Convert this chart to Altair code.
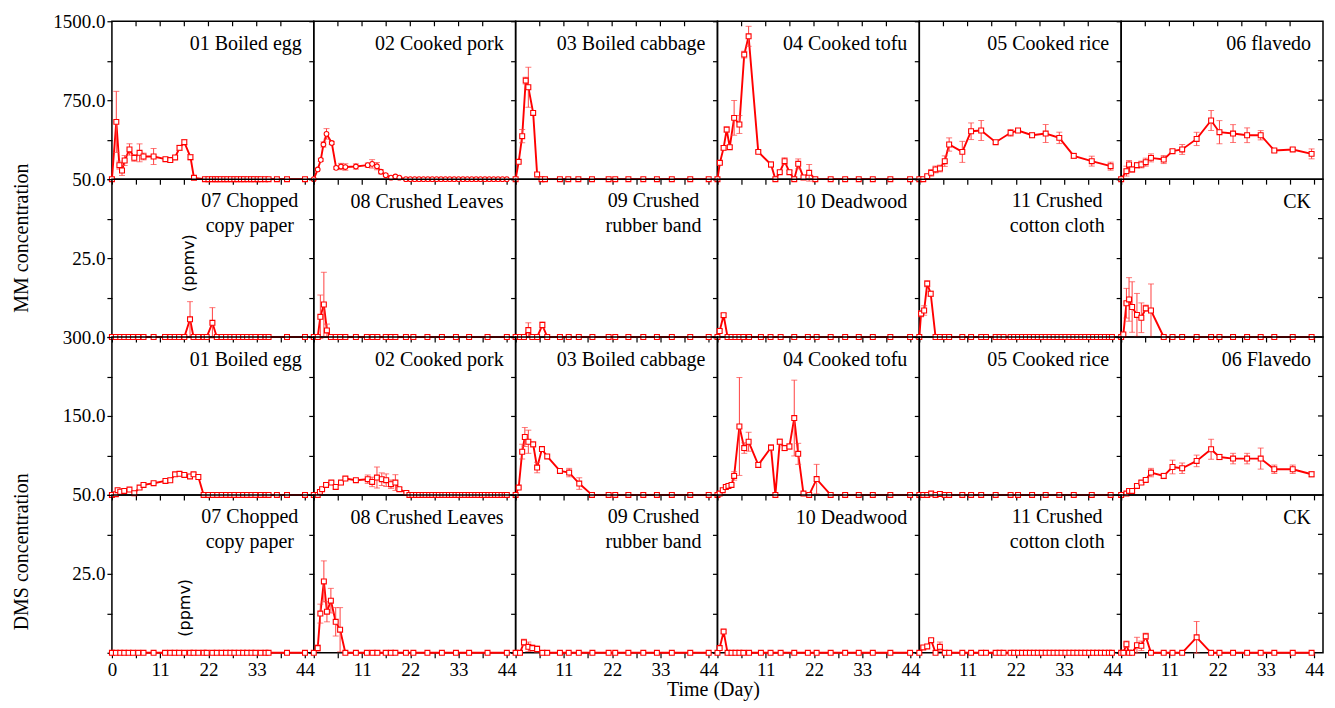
import sys
import altair as alt
import pandas as pd

# ---------------------------------------------------------------- data
Y_MAX = [1500, 50, 300, 50]                 # per row of panels
X_TICKS = [0, 5.5, 11, 16.5, 22, 27.5, 33, 38.5, 44]
X_MAX = 46

TITLES_R1 = ["01 Boiled egg", "02 Cooked pork", "03 Boiled cabbage",
             "04 Cooked tofu", "05 Cooked rice", "06  flavedo"]
TITLES_R2 = ["07 Chopped\ncopy paper", "08 Crushed Leaves", "09 Crushed\nrubber band",
             "10 Deadwood", "11 Crushed\ncotton cloth", "CK"]
TITLES_R3 = ["01 Boiled egg", "02 Cooked pork", "03 Boiled cabbage",
             "04 Cooked tofu", "05 Cooked rice", "06 Flavedo"]
TITLES_R4 = TITLES_R2

Y_TITLE_MM = "MM concentration"
Y_TITLE_DMS = "DMS concentration"
UNIT_TEXT = "(ppmv)"
X_TITLE = "Time (Day)"

# ---- row 1 : MM, large scale
EGG_MM_DAY = [0, 1, 1.7, 2.3, 2.9, 4, 5.1, 6.3, 7.2, 9.5,
              12.2, 13.3, 14.4, 15.4, 16.5, 17.9, 18.7, 21.2, 22, 22.8,
              23.5, 24.1, 24.8, 25.6, 26.3, 27.1, 27.9, 28.6, 29.4, 30.1,
              30.9, 31.7, 32.4, 33.2, 33.9, 34.9, 35.7, 37.6, 39.9, 44]
EGG_MM_VAL = [0, 544, 133, 82, 177, 282, 202, 250, 215, 215,
              190, 181, 206, 297, 351, 209, 12, 0, 0, 0,
              0, 0, 0, 0, 0, 0, 0, 0, 0, 0,
              0, 0, 0, 0, 0, 0, 0, 0, 0, 0]
EGG_MM_ERR = [0, 290, 38, 47, 47, 54, 32, 85, 32, 76, 16, 16, 16, 25, 25, 25]

PORK_MM_DAY = [0, 0.9, 1.6, 2.2, 2.9, 4.1, 5.1, 6.2, 7.2, 9.6,
               12.3, 13.3, 14.4, 15.3, 16.4, 17.6, 18.6, 19.5, 21, 22,
               23, 24, 25, 26, 27, 28, 29, 30, 31, 32,
               33, 34, 35, 36, 37, 38, 39, 40, 41, 42,
               43, 44]
PORK_MM_VAL = [0, 92, 183, 329, 430, 344, 107, 120, 115, 120,
               133, 145, 123, 70, 38, 14, 25, 14, 0, 0,
               0, 0, 0, 0, 0, 0, 0, 0, 0, 0,
               0, 0, 0, 0, 0, 0, 0, 0, 0, 0,
               0, 0]
PORK_MM_ERR = [0, 0, 15, 25, 50, 15, 15, 30, 30, 25, 20, 40, 35, 20, 10, 5, 5, 5]

CAB_MM_DAY = [0, 0.7, 1.5, 2.3, 2.9, 4.0, 4.9, 5.9, 6.7, 10.1,
              12.0, 14.3, 17.4, 21.2, 22.7, 25.7, 29.1, 32.2, 35.6, 39.8, 44]
CAB_MM_VAL = [0, 164, 408, 936, 873, 629, 45, 0, 0, 0,
              0, 0, 0, 0, 0, 0, 0, 0, 0, 0, 0]
CAB_MM_ERR = [0, 0, 63, 32, 190]

TOFU_MM_DAY = [0, 0.55, 1.4, 2.1, 2.8, 3.8, 5.0, 6.1, 7.1, 9.3,
               12.2, 13.2, 14.2, 15.3, 16.4, 17.5, 18.4, 19.6, 20.9, 22.3,
               25.8, 29.1, 32.2, 35.4, 39.4, 43.9]
TOFU_MM_VAL = [0, 155, 297, 471, 304, 582, 519, 1183, 1357, 259,
               139, 0, 66, 171, 66, 0, 145, 16, 60, 0,
               0, 0, 0, 0, 0, 0]
TOFU_MM_ERR = [0, 10, 20, 25, 15, 165, 85, 32, 95, 10, 25, 0, 15, 32, 15, 0, 47, 0, 79]

RICE_DAY = [0, 0.9, 1.8, 2.7, 3.7, 4.7, 5.8, 6.8, 9.8, 11.8,
            14.1, 17.4, 20.8, 22.5, 25.7, 28.8, 31.9, 35.2, 39.3, 43.6]
RICE_MM_VAL = [0, 0, 28, 60, 92, 101, 171, 329, 259, 455,
               462, 351, 440, 462, 417, 433, 392, 221, 171, 123]
RICE_MM_ERR = [0, 0, 10, 32, 32, 32, 50, 63, 100, 79, 95, 16, 32, 16, 22, 85, 54, 25, 47, 38]

FLAV_DAY = [0, 1.2, 1.8, 2.5, 3.6, 4.6, 5.6, 6.8, 9.7, 11.7,
            13.9, 17.2, 20.5, 22.4, 25.5, 28.7, 31.8, 34.9, 39.1, 43.4]
FLAV_MM_VAL = [0, 76, 139, 92, 133, 139, 161, 202, 186, 266,
               282, 382, 557, 446, 433, 417, 417, 272, 282, 240]
FLAV_MM_ERR = [0, 47, 38, 25, 25, 32, 38, 38, 38, 16, 47, 63, 95, 110, 85, 70, 44, 16, 16, 47]

# ---- row 2 : MM, small scale
PAPER_DAY = [0, 0.9, 1.9, 2.8, 3.8, 4.8, 6.0, 7.2, 9.5, 12.1,
             13.3, 14.3, 15.3, 16.5, 17.8, 18.6, 19.7, 20.9, 21.6, 22.9,
             23.9, 25.0, 26.0, 27.0, 27.9, 28.9, 29.9, 30.8, 31.8, 32.7,
             33.9, 35.0, 35.7, 39.9, 44.0]
PAPER_MM_VAL = [0, 0, 0, 0, 0, 0, 0, 0, 0, 0,
                0, 0, 0, 0, 5.6, 0, 0, 0, 0, 4.5,
                0, 0, 0, 0, 0, 0, 0, 0, 0, 0,
                0, 0, 0, 0, 0]
PAPER_MM_ERR = [0, 0, 0, 0, 0, 0, 0, 0, 0, 0,
                0, 0, 0, 0, 5.6, 0, 0, 0, 0, 4.8]

LEAF_DAY = [0, 0.9, 1.5, 2.3, 3.0, 3.9, 5.0, 6.0, 7.2, 9.6,
            12.1, 13.4, 14.5, 16.4, 17.6, 18.6, 21.0, 22.7, 25.9, 29.2,
            32.4, 35.4, 39.6, 44.0]
LEAF_MM_VAL = [0, 0, 6.4, 10.3, 2.1, 0, 0, 0, 0, 0,
               0, 0, 0, 0, 0, 0, 0, 0, 0, 0,
               0, 0, 0, 0]
LEAF_MM_ERR = [0, 0, 6.9, 10.2, 2.0]

RUB_DAY = [0, 1.0, 1.9, 2.9, 3.8, 4.9, 6.1, 7.2, 10.1, 12.1,
           14.4, 17.5, 21.2, 22.7, 25.7, 29.1, 32.2, 35.6, 39.8, 44]
RUB_MM_VAL = [0, 0, 0, 2.2, 0, 0, 3.8, 0, 0, 0,
              0, 0, 0, 0, 0, 0, 0, 0, 0, 0]
RUB_MM_ERR = [0, 0, 0, 2.3, 0, 0, 1.0]

WOOD_DAY = [0, 0.5, 1.4, 2.3, 3.2, 4.1, 5.0, 5.9, 7.2, 9.9,
            12.1, 14.4, 17.5, 20.6, 22.6, 25.8, 29.1, 32.2, 35.4, 39.4, 43.9]
WOOD_MM_VAL = [0, 1.9, 6.9, 0, 0, 0, 0, 0, 0, 0,
               0, 0, 0, 0, 0, 0, 0, 0, 0, 0, 0]
WOOD_MM_ERR = [0, 0.5, 0.6]

COT_MM_DAY = [0, 0.4, 1.1, 1.8, 2.6, 3.7, 4.7, 5.8, 6.8, 9.8,
              11.8, 14.1, 15.2, 17.4, 18.3, 19.2, 20.8, 21.6, 22.5, 23.4,
              24.3, 25.2, 26.1, 27.0, 27.9, 28.8, 29.7, 30.6, 31.5, 32.4,
              33.3, 34.2, 35.1, 36.0, 36.9, 37.8, 38.7, 39.6, 40.5, 41.4,
              42.3, 43.2, 43.9]
COT_MM_VAL = [0, 7.4, 8.4, 16.9, 13.7, 0, 0, 0, 0, 0,
              0, 0, 0, 0, 0, 0, 0, 0, 0, 0,
              0, 0, 0, 0, 0, 0, 0, 0, 0, 0,
              0, 0, 0, 0, 0, 0, 0, 0, 0, 0,
              0, 0, 0]
COT_MM_ERR = [0, 1.0, 1.5, 1.0, 0.8]

CK_DAY = [0, 0.5, 1.2, 1.8, 2.5, 3.6, 4.6, 5.6, 6.8, 9.7,
          11.7, 13.9, 17.2, 20.5, 22.4, 25.5, 28.7, 31.8, 34.9, 39.1, 43.4]
CK_MM_VAL = [0, 0.8, 10.7, 11.9, 9.5, 7.0, 6.1, 9.1, 8.4, 0,
             0, 0, 0, 0, 0, 0, 0, 0, 0, 0, 0]
CK_MM_ERR = [0, 0, 4.7, 6.9, 8.0, 6.8, 4.7, 1.0, 8.4]

# ---- row 3 : DMS, large scale
EGG_DMS_DAY = [0, 0.9, 1.3, 1.9, 2.8, 4.0, 5.1, 6.3, 7.2, 9.5,
               12.2, 13.3, 14.4, 15.4, 16.5, 17.8, 18.6, 19.7, 20.9, 22.0,
               23.0, 24.0, 25.0, 26.0, 27.0, 27.9, 28.9, 29.9, 30.8, 31.8,
               32.7, 33.9, 35.0, 35.7, 37.6, 39.9, 44.0]
EGG_DMS_VAL = [0, 1.3, 8.9, 6, 7.6, 10.1, 3.2, 13.9, 19, 22.2,
               26.6, 27.8, 39, 40, 38, 35, 39, 34, 0, 0,
               0, 0, 0, 0, 0, 0, 0, 0, 0, 0,
               0, 0, 0, 0, 0, 0, 0]
EGG_DMS_ERR = [0, 0, 0, 0, 0, 0, 0, 0, 0, 0, 0, 0, 3, 3, 3, 3, 3]

PORK_DMS_DAY = [0, 0.9, 1.4, 1.9, 2.8, 4.0, 5.0, 6.2, 7.2, 9.6,
                12.3, 13.3, 14.4, 15.5, 16.5, 17.6, 18.6, 19.5, 21.1, 21.8,
                22.5, 23.3, 24.0, 24.8, 25.5, 26.3, 27.0, 27.8, 28.5, 29.3,
                30.0, 30.8, 31.5, 32.3, 33.0, 33.8, 34.5, 35.3, 36.0, 36.8,
                37.5, 38.3, 39.0, 39.8, 40.5, 41.3, 42.0, 42.8, 43.5, 44.0]
PORK_DMS_VAL = [0, 0, 5.7, 10.8, 19, 23.4, 15.2, 23.4, 31, 27.9,
                29.8, 24.7, 32.9, 29.8, 27.9, 20.3, 23.4, 10.8, 3.8, 0,
                0, 0, 0, 0, 0, 0, 0, 0, 0, 0,
                0, 0, 0, 0, 0, 0, 0, 0, 0, 0,
                0, 0, 0, 0, 0, 0, 0, 0, 0, 0]
PORK_DMS_ERR = [0, 0, 0, 3, 3, 3, 4, 4, 3, 3, 8, 9, 20, 12, 12, 8, 15, 3]

CAB_DMS_DAY = [0, 0.7, 1.5, 2.1, 2.9, 4.0, 4.9, 6.0, 7.2, 10.1,
               12.2, 14.5, 17.4, 21.2, 22.7, 25.7, 29.1, 32.2, 35.6, 39.8, 44]
CAB_DMS_VAL = [0, 13.9, 82, 110, 101, 96, 52, 87, 73, 45.6,
               42.4, 21.5, 0, 0, 0, 0, 0, 0, 0, 0, 0]
CAB_DMS_ERR = [0, 0, 14, 18, 22, 5, 10, 0, 0, 0, 8, 11]

TOFU_DMS_DAY = [0, 0.5, 1.2, 1.9, 2.5, 3.2, 3.8, 5.0, 6.1, 7.1,
                9.3, 12.2, 13.2, 14.2, 15.3, 16.4, 17.5, 18.4, 19.6, 20.9,
                22.6, 25.8, 29.1, 32.2, 35.4, 39.4, 43.9]
TOFU_DMS_VAL = [0, 2.5, 8.9, 15, 17, 19, 36, 130, 89, 101,
                57, 90, 0, 101, 89, 92, 146, 78, 2.5, 0,
                30, 0, 0, 0, 0, 0, 0]
TOFU_DMS_ERR = [0, 0, 0, 0, 0, 0, 8, 93, 10, 18, 5, 5, 0, 5, 5, 5, 72, 20, 0, 0, 28]

RICE_DMS_VAL = [0, 0, 0, 2.5, 0, 1.9, 0, 0, 0, 0,
                0, 0, 0, 0, 0, 0, 0, 0, 0, 0]
RICE_DMS_ERR = [0, 0, 0, 0, 0, 1.0]

FLAV_DMS_VAL = [0, 2.5, 7.6, 7.6, 17, 23.4, 28.5, 42.4, 36, 53,
                50.6, 64.6, 86.7, 72, 69, 69, 69, 48.7, 48.7, 39.2]
FLAV_DMS_ERR = [0, 0, 3, 3, 3, 3, 3, 8, 5, 13, 10, 11, 19, 5, 10, 10, 20, 8, 8, 5]

# ---- row 4 : DMS, small scale
PAPER_DMS_VAL = [0, 0, 0, 0, 0, 0, 0, 0, 0, 0,
                 0, 0, 0, 0, 0, 0, 0, 0, 0, 0,
                 0, 0, 0, 0, 0, 0, 0, 0, 0, 0,
                 0, 0, 0, 0, 0]
LEAF_DMS_VAL = [0, 1.5, 12.4, 22.6, 13, 16.5, 9.8, 7.3, 0, 0,
                0, 0, 0, 0, 0, 0, 0, 0, 0, 0,
                0, 0, 0, 0]
LEAF_DMS_ERR = [0, 1, 3, 6.5, 3.2, 3.9, 4.5, 7]
RUB_DMS_VAL = [0, 0, 3.3, 1.9, 1.5, 1.2, 0, 0, 0, 0,
               0, 0, 0, 0, 0, 0, 0, 0, 0, 0]
RUB_DMS_ERR = [0, 0, 1, 1.5, 1, 1]
WOOD_DMS_VAL = [0, 1.5, 6.7, 0, 0, 0, 0, 0, 0, 0,
                0, 0, 0, 0, 0, 0, 0, 0, 0, 0, 0]
WOOD_DMS_ERR = [0, 0, 0.5]
COT_DMS_DAY = [0, 0.9, 1.8, 2.7, 3.7, 4.7, 5.8, 6.8, 9.8, 11.8,
               14.1, 15.2, 17.4, 18.3, 19.2, 20.8, 21.6, 22.5, 23.4, 24.3,
               25.2, 26.1, 27.0, 27.9, 28.8, 29.7, 30.6, 31.5, 32.4, 33.3,
               34.2, 35.1, 36.0, 36.9, 37.8, 38.7, 39.6, 40.5, 41.4, 42.3,
               43.2, 43.9]
COT_DMS_VAL = [0, 1.7, 2.0, 4.0, 0, 1.9, 0, 0, 0, 0,
               0, 0, 0, 0, 0, 0, 0, 0, 0, 0,
               0, 0, 0, 0, 0, 0, 0, 0, 0, 0,
               0, 0, 0, 0, 0, 0, 0, 0, 0, 0,
               0, 0]
COT_DMS_ERR = [0, 0.5, 0.5, 0.5, 0, 1.5]
CK_DMS_VAL = [0, 0, 2.7, 0, 0, 2.4, 2.2, 5.2, 0, 0,
              0, 0, 4.9, 0, 0, 0, 0, 0, 0, 0, 0]
CK_DMS_ERR = [0, 0, 1, 0, 0, 2.5, 1.5, 1, 0, 0, 0, 0, 5]

# (days, values, errors, marker) per panel, row by row
PANELS = [
    [(EGG_MM_DAY, EGG_MM_VAL, EGG_MM_ERR, "square"),
     (PORK_MM_DAY, PORK_MM_VAL, PORK_MM_ERR, "circle"),
     (CAB_MM_DAY, CAB_MM_VAL, CAB_MM_ERR, "square"),
     (TOFU_MM_DAY, TOFU_MM_VAL, TOFU_MM_ERR, "square"),
     (RICE_DAY, RICE_MM_VAL, RICE_MM_ERR, "square"),
     (FLAV_DAY, FLAV_MM_VAL, FLAV_MM_ERR, "square")],
    [(PAPER_DAY, PAPER_MM_VAL, PAPER_MM_ERR, "square"),
     (LEAF_DAY, LEAF_MM_VAL, LEAF_MM_ERR, "square"),
     (RUB_DAY, RUB_MM_VAL, RUB_MM_ERR, "square"),
     (WOOD_DAY, WOOD_MM_VAL, WOOD_MM_ERR, "square"),
     (COT_MM_DAY, COT_MM_VAL, COT_MM_ERR, "square"),
     (CK_DAY, CK_MM_VAL, CK_MM_ERR, "square")],
    [(EGG_DMS_DAY, EGG_DMS_VAL, EGG_DMS_ERR, "square"),
     (PORK_DMS_DAY, PORK_DMS_VAL, PORK_DMS_ERR, "square"),
     (CAB_DMS_DAY, CAB_DMS_VAL, CAB_DMS_ERR, "square"),
     (TOFU_DMS_DAY, TOFU_DMS_VAL, TOFU_DMS_ERR, "square"),
     (RICE_DAY, RICE_DMS_VAL, RICE_DMS_ERR, "square"),
     (FLAV_DAY, FLAV_DMS_VAL, FLAV_DMS_ERR, "square")],
    [(PAPER_DAY, PAPER_DMS_VAL, [], "square"),
     (LEAF_DAY, LEAF_DMS_VAL, LEAF_DMS_ERR, "square"),
     (RUB_DAY, RUB_DMS_VAL, RUB_DMS_ERR, "square"),
     (WOOD_DAY, WOOD_DMS_VAL, WOOD_DMS_ERR, "square"),
     (COT_DMS_DAY, COT_DMS_VAL, COT_DMS_ERR, "square"),
     (CK_DAY, CK_DMS_VAL, CK_DMS_ERR, "square")],
]
TITLES = [TITLES_R1, TITLES_R2, TITLES_R3, TITLES_R4]

# ---------------------------------------------------------------- style
W, H = 202, 158
RED = "#ff0000"
RED_L = "#ff4040"
SERIF = "Liberation Serif"


def x_axis(r, c):
    if r == 3:
        if c == 0:
            expr = "datum.value % 11 == 0 ? format(datum.value, 'd') : ''"
        else:
            expr = "(datum.value % 11 == 0 && datum.value > 0) ? format(datum.value, 'd') : ''"
        return alt.Axis(values=X_TICKS, labelExpr=expr, title=None,
                        labelFlush=False, labelOverlap=False, labelPadding=3)
    return alt.Axis(values=X_TICKS, labels=False, title=None)


def y_axis(r, c):
    m = Y_MAX[r]
    vals = [0, m / 4, m / 2, 3 * m / 4, m]
    if c == 0:
        expr = f"(datum.value == {m} || datum.value == {m / 2}) ? format(datum.value, '.1f') : ''"
        return alt.Axis(values=vals, labelExpr=expr, title=None,
                        labelFlush=False, labelOverlap=False, labelPadding=2)
    return alt.Axis(values=vals, labels=False, title=None)


def text_layer(txt, x, y, size=20, angle=0, align="center", baseline="middle", font=SERIF):
    kw = dict(font=font, fontSize=size, color="black", align=align,
              baseline=baseline, lineBreak="\n", lineHeight=25)
    if angle:
        kw["angle"] = angle
    return alt.Chart(pd.DataFrame({"t": [txt]})).mark_text(**kw).encode(
        text="t:N", x=alt.value(x), y=alt.value(y))


def make_panel(r, c):
    days, vals, errs, shape = PANELS[r][c]
    n = min(len(days), len(vals))
    if len(days) != len(vals):
        print(f"length mismatch r{r} c{c}: {len(days)} vs {len(vals)}", file=sys.stderr)
    e = list(errs)[:n] + [0] * max(0, n - len(errs))
    df = pd.DataFrame({"day": days[:n], "v": vals[:n], "e": e})
    df["lo"] = df["v"] - df["e"]
    df["hi"] = df["v"] + df["e"]

    xs = alt.Scale(domain=[0, X_MAX], nice=False, zero=False)
    ys = alt.Scale(domain=[0, Y_MAX[r]], nice=False)
    xa, ya = x_axis(r, c), y_axis(r, c)
    X = alt.X("day:Q", scale=xs, axis=xa)

    base = alt.Chart(df)
    eb = base.transform_filter("datum.e > 0")
    layers = [
        base.mark_line(color=RED, strokeWidth=1.9).encode(
            x=X, y=alt.Y("v:Q", scale=ys, axis=ya)),
        eb.mark_rule(color=RED_L, strokeWidth=1).encode(
            x=X, y=alt.Y("lo:Q", scale=ys, axis=ya), y2="hi:Q"),
        eb.mark_tick(color=RED_L, orient="horizontal", size=6, thickness=1).encode(
            x=X, y=alt.Y("hi:Q", scale=ys, axis=ya)),
        eb.mark_tick(color=RED_L, orient="horizontal", size=6, thickness=1).encode(
            x=X, y=alt.Y("lo:Q", scale=ys, axis=ya)),
        base.mark_point(shape=shape, size=24 if shape == "square" else 22,
                        filled=True, fill="white", stroke=RED, strokeWidth=1.1,
                        opacity=1).encode(x=X, y=alt.Y("v:Q", scale=ys, axis=ya)),
    ]

    title = TITLES[r][c]
    if "\n" in title:
        layers.append(text_layer(title, 138, 28, align="center", baseline="alphabetic"))
    else:
        layers.append(text_layer(title, W - 12, 29, align="right", baseline="alphabetic"))

    if r == 0:  # inward ticks on the top frame
        tdf = pd.DataFrame({"day": X_TICKS[1:-1]})
        layers.append(alt.Chart(tdf).mark_rule(color="black", strokeWidth=1.2).encode(
            x=X, y=alt.value(0), y2=alt.value(5)))
    if c == 5:  # inward ticks on the right frame
        m = Y_MAX[r]
        rdf = pd.DataFrame({"v": [m / 4, m / 2, 3 * m / 4]})
        layers.append(alt.Chart(rdf).mark_rule(color="black", strokeWidth=1.2).encode(
            y=alt.Y("v:Q", scale=ys, axis=ya), x=alt.value(W - 5), x2=alt.value(W)))

    if r == 1 and c == 0:
        layers.append(text_layer(Y_TITLE_MM, -90, 59, size=20, angle=270))
        layers.append(text_layer(UNIT_TEXT, 77, 84, size=16, angle=270, font="DejaVu Sans"))
    if r == 3 and c == 0:
        layers.append(text_layer(Y_TITLE_DMS, -90, 57, size=20, angle=270))
        layers.append(text_layer(UNIT_TEXT, 73, 113, size=16, angle=270, font="DejaVu Sans"))
    if r == 3 and c == 3:
        layers.append(text_layer(X_TITLE, -4, H + 37, size=20))

    return alt.layer(*layers).properties(width=W, height=H)


panels = [make_panel(r, c) for r in range(4) for c in range(6)]

chart = (
    alt.concat(*panels, columns=6, spacing=0, bounds="flush")
    .properties(padding={"left": 3, "top": 3, "right": 2, "bottom": 0},
                background="white")
    .configure_view(stroke="black", strokeWidth=1.5)
    .configure_axis(labelFont=SERIF, labelFontSize=19, labelColor="black",
                    tickColor="black", tickSize=5, tickWidth=1.2,
                    domain=False, grid=False)
)

chart.save("out.html", embed_options={"renderer": "svg", "actions": False})
